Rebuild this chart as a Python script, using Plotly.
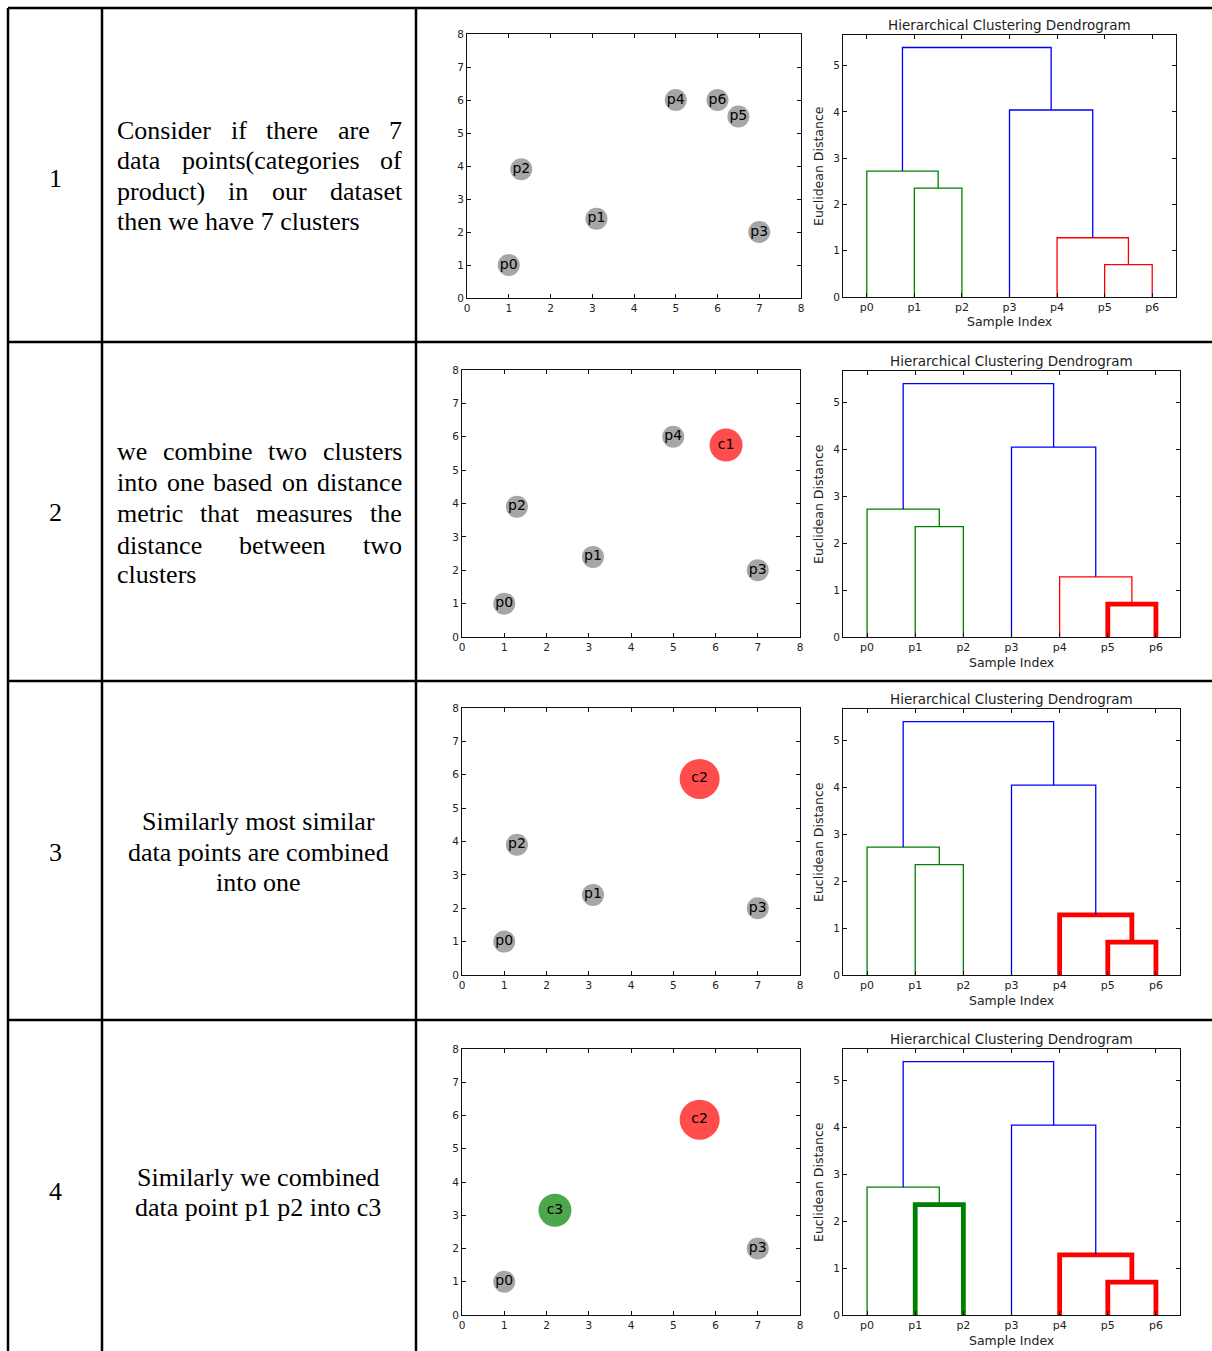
import plotly.graph_objects as go

# ---------------- data ----------------
point_names = ["p0", "p1", "p2", "p3", "p4", "p5", "p6", "c1", "c2", "c3"]
point_x = [1.0, 3.1, 1.3, 7.0, 5.0, 6.5, 6.0, 6.25, 5.625, 2.2]
point_y = [1.0, 2.4, 3.9, 2.0, 6.0, 5.5, 6.0, 5.75, 5.875, 3.15]

row_points = [
    ["p0", "p1", "p2", "p3", "p4", "p5", "p6"],
    ["p0", "p1", "p2", "p3", "p4", "c1"],
    ["p0", "p1", "p2", "p3", "c2"],
    ["p0", "c3", "p3", "c2"],
]

leaf_labels = ["p0", "p1", "p2", "p3", "p4", "p5", "p6"]
merge_left = [5, 1, 4, 0, 3, 10]
merge_right = [6, 2, 7, 8, 9, 11]
merge_height = [0.70, 2.35, 1.28, 2.72, 4.04, 5.39]
merge_color = ["red", "green", "red", "green", "blue", "blue"]
row_highlight = [[], [0], [0, 2], [0, 1, 2]]

row_numbers = ["1", "2", "3", "4"]
row_text = [
    ["Consider if there are 7", "data points(categories of", "product) in our dataset", "then we have 7 clusters"],
    ["we combine two clusters", "into one based on distance", "metric that measures the", "distance between two", "clusters"],
    ["Similarly most similar", "data points are combined", "into one"],
    ["Similarly we combined", "data point p1 p2 into c3"],
]
row_text_mode = ["justify", "justify", "center", "center"]

# ---------------- style / layout ----------------
W, H = 1212, 1351
COLOR_MAP = {"red": "#ff0000", "green": "#008000", "blue": "#0000ff"}
PT_STYLE = {
    "p": ("#a6a6a6", 22),
    "c1": ("#ff4d4d", 33),
    "c2": ("#ff4d4d", 40),
    "c3": ("#4ca64c", 33),
}
scatter_boxes = [(467, 801, 34, 298), (462, 800, 370, 637), (462, 800, 708, 975), (462, 800, 1049, 1315)]
dendro_boxes = [(843, 1176, 35, 297), (843, 1180, 371, 637), (843, 1180, 709, 975), (843, 1180, 1049, 1315)]
text_line_y = [[131, 161, 191, 221], [452, 483, 514, 545, 575], [822, 852, 882], [1177, 1207]]
number_y = [178, 513, 852, 1191]
TEXT_FS = 26
TEXT_L, TEXT_R, TEXT_C = 116, 401, 258

TNR = {" ": 250, "(": 333, ")": 333, "C": 667, "S": 556,
       "a": 444, "b": 500, "c": 444, "d": 500, "e": 444, "f": 333, "g": 500, "h": 500,
       "i": 278, "j": 278, "k": 500, "l": 278, "m": 778, "n": 500, "o": 500, "p": 500,
       "q": 500, "r": 333, "s": 389, "t": 278, "u": 500, "v": 500, "w": 722, "x": 500,
       "y": 500, "z": 444}


def tw(s):
    return sum(TNR.get(ch, 500) for ch in s) / 1000.0 * TEXT_FS


def px(x):
    return x / W


def py(y):
    return 1 - y / H


fig = go.Figure()
layout = dict(width=W, height=H, margin=dict(l=0, r=0, t=0, b=0, autoexpand=False),
              paper_bgcolor="white", plot_bgcolor="white", showlegend=False,
              autosize=False)
annotations = []
shapes = []

tick_font = dict(family="DejaVu Sans", size=10.5, color="#222")
axis_common = dict(showgrid=False, zeroline=False, showline=True, linecolor="#111",
                   linewidth=1, ticks="inside", ticklen=4, tickcolor="#111",
                   mirror="ticks", tickfont=tick_font, fixedrange=True, automargin=False)

name_idx = {n: i for i, n in enumerate(point_names)}

for r in range(4):
    # ---------- scatter ----------
    ax_s = 2 * r + 1
    ax_d = 2 * r + 2
    xs = "x" if ax_s == 1 else f"x{ax_s}"
    ys = "y" if ax_s == 1 else f"y{ax_s}"
    names = row_points[r]
    cols, sizes = [], []
    for n in names:
        c, s = PT_STYLE.get(n, PT_STYLE["p"]) if n.startswith("c") else PT_STYLE["p"]
        cols.append(c)
        sizes.append(s)
    fig.add_trace(go.Scatter(
        x=[point_x[name_idx[n]] for n in names],
        y=[point_y[name_idx[n]] for n in names],
        text=names, mode="markers+text", textposition="middle center",
        textfont=dict(family="DejaVu Sans", size=14, color="black"),
        marker=dict(color=cols, size=sizes, opacity=1, line=dict(width=0)),
        xaxis=xs, yaxis=ys, cliponaxis=False, hoverinfo="skip"))
    l, rr, t, b = scatter_boxes[r]
    layout["xaxis" if ax_s == 1 else f"xaxis{ax_s}"] = dict(
        axis_common, domain=[px(l), px(rr)], range=[0, 8], tickvals=list(range(9)), anchor=ys)
    layout["yaxis" if ax_s == 1 else f"yaxis{ax_s}"] = dict(
        axis_common, domain=[py(b), py(t)], range=[0, 8], tickvals=list(range(9)), anchor=xs)

    # ---------- dendrogram ----------
    xd = f"x{ax_d}"
    yd = f"y{ax_d}"
    pos = {i: 5 + 10 * i for i in range(len(leaf_labels))}
    hgt = {i: 0.0 for i in range(len(leaf_labels))}
    n0 = len(leaf_labels)
    for k in range(len(merge_height)):
        a, bb = merge_left[k], merge_right[k]
        h = merge_height[k]
        thick = k in row_highlight[r]
        fig.add_trace(go.Scatter(
            x=[pos[a], pos[a], pos[bb], pos[bb]],
            y=[hgt[a], h, h, hgt[bb]], mode="lines",
            line=dict(color=COLOR_MAP[merge_color[k]], width=4.8 if thick else 1.3),
            xaxis=xd, yaxis=yd, hoverinfo="skip", cliponaxis=False))
        pos[n0 + k] = (pos[a] + pos[bb]) / 2
        hgt[n0 + k] = h
    l, rr, t, b = dendro_boxes[r]
    layout[f"xaxis{ax_d}"] = dict(
        axis_common, domain=[px(l), px(rr)], range=[0, 70],
        tickvals=[5 + 10 * i for i in range(len(leaf_labels))], ticktext=leaf_labels,
        tickfont=dict(family="DejaVu Sans", size=11, color="#222"), anchor=yd)
    layout[f"yaxis{ax_d}"] = dict(
        axis_common, domain=[py(b), py(t)], range=[0, 5.66], tickvals=list(range(6)), anchor=xd)
    cx = (l + rr) / 2
    annotations.append(dict(x=px(cx), y=py(t - 10), xref="paper", yref="paper",
                            text="Hierarchical Clustering Dendrogram", showarrow=False,
                            xanchor="center", yanchor="middle",
                            font=dict(family="DejaVu Sans", size=13.5, color="#222")))
    annotations.append(dict(x=px(cx), y=py(b + 25), xref="paper", yref="paper",
                            text="Sample Index", showarrow=False, xanchor="center", yanchor="middle",
                            font=dict(family="DejaVu Sans", size=12.5, color="#222")))
    annotations.append(dict(x=px(818), y=py((t + b) / 2), xref="paper", yref="paper",
                            text="Euclidean Distance", showarrow=False, textangle=-90,
                            xanchor="center", yanchor="middle",
                            font=dict(family="DejaVu Sans", size=12.5, color="#222")))

    # ---------- table text ----------
    annotations.append(dict(x=px(55), y=py(number_y[r]), xref="paper", yref="paper",
                            text=row_numbers[r], showarrow=False, xanchor="center", yanchor="middle",
                            font=dict(family="Liberation Serif", size=TEXT_FS, color="black")))
    lines = row_text[r]
    for li, line in enumerate(lines):
        yy = py(text_line_y[r][li])
        fnt = dict(family="Liberation Serif", size=TEXT_FS, color="black")
        if row_text_mode[r] == "center":
            annotations.append(dict(x=px(TEXT_C), y=yy, xref="paper", yref="paper", text=line,
                                    showarrow=False, xanchor="center", yanchor="middle", font=fnt,
                                    borderpad=0))
        elif li == len(lines) - 1:
            annotations.append(dict(x=px(TEXT_L), y=yy, xref="paper", yref="paper", text=line,
                                    showarrow=False, xanchor="left", yanchor="middle", font=fnt,
                                    borderpad=0))
        else:
            words = line.split()
            widths = [tw(w) for w in words]
            gap = (TEXT_R - TEXT_L - sum(widths)) / (len(words) - 1)
            xcur = TEXT_L
            for w, wd in zip(words, widths):
                annotations.append(dict(x=px(xcur), y=yy, xref="paper", yref="paper", text=w,
                                        showarrow=False, xanchor="left", yanchor="middle", font=fnt,
                                        borderpad=0))
                xcur += wd + gap

# ---------- table grid ----------
LW = 2.5
for xv in [8, 102, 416]:
    shapes.append(dict(type="line", xref="paper", yref="paper", x0=px(xv), x1=px(xv),
                       y0=py(8), y1=py(H), line=dict(color="black", width=LW)))
for yv in [8, 342, 681, 1020]:
    shapes.append(dict(type="line", xref="paper", yref="paper", x0=px(8), x1=px(W),
                       y0=py(yv), y1=py(yv), line=dict(color="black", width=LW)))

layout["annotations"] = annotations
layout["shapes"] = shapes
fig.update_layout(**layout)

page_fix = ("document.documentElement.style.margin='0';document.body.style.margin='0';"
            "document.body.style.padding='0';document.documentElement.style.overflow='hidden';"
            "document.body.style.overflow='hidden';")
fig.write_html("out.html", post_script=page_fix, config={"displayModeBar": False, "staticPlot": True})
